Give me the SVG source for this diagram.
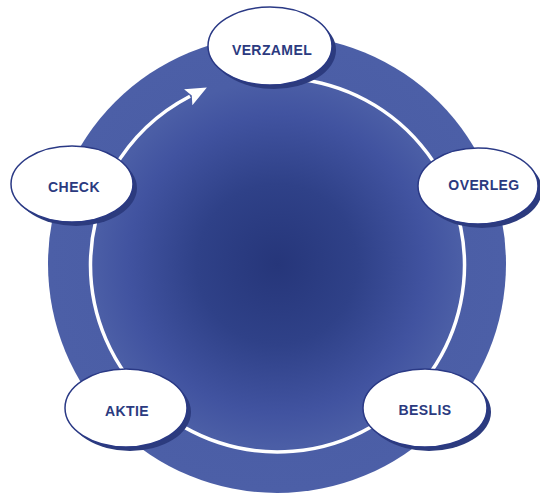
<svg xmlns="http://www.w3.org/2000/svg" width="540" height="495" viewBox="0 0 540 495">
  <style>
    .shadow { fill: #2c3b7e; }
    .node { fill: #ffffff; stroke: #2a3985; stroke-width: 1.5; }
    .label { font-family: "Liberation Sans", Arial, sans-serif; font-weight: bold; font-size: 14px; fill: #2b3a80; text-anchor: middle; letter-spacing: 0.4px; }
    .ring { fill: none; stroke: #ffffff; stroke-width: 3.5; }
  </style>
  <defs>
    <radialGradient id="disc" cx="277" cy="264" r="229" gradientUnits="userSpaceOnUse">
      <stop offset="0" stop-color="#26367a"/>
      <stop offset="0.35" stop-color="#2f4188"/>
      <stop offset="0.65" stop-color="#4153a0"/>
      <stop offset="0.8" stop-color="#4b5ea6"/>
      <stop offset="1" stop-color="#4c5fa7"/>
    </radialGradient>
    <marker id="head" markerUnits="userSpaceOnUse" markerWidth="24" markerHeight="20" refX="2" refY="10" orient="auto">
      <path d="M0,1 L21,10 L0,19 L4,10 Z" fill="#ffffff"/>
    </marker>
  </defs>
  <rect width="540" height="495" fill="#ffffff"/>
  <circle id="disc-bg" cx="277" cy="264" r="229" fill="url(#disc)"/>
  <g id="connectors">
    <path class="ring" d="M293.8,78.7 A187,187 0 1 1 108.0,186.0"/>
    <path class="ring" d="M113.0,170.0 A190,190 0 0 1 190.0,96.3" marker-end="url(#head)"/>
  </g>
  <g id="verzamel">
    <ellipse class="shadow" cx="274" cy="50" rx="62" ry="39"/>
    <ellipse class="node" cx="270" cy="46" rx="62" ry="39"/>
    <text class="label" x="272" y="55">VERZAMEL</text>
  </g>
  <g id="overleg">
    <ellipse class="shadow" cx="482" cy="190" rx="60" ry="38"/>
    <ellipse class="node" cx="478" cy="186" rx="60" ry="38"/>
    <text class="label" x="484" y="190">OVERLEG</text>
  </g>
  <g id="beslis">
    <ellipse class="shadow" cx="429" cy="412" rx="62" ry="39"/>
    <ellipse class="node" cx="425" cy="408" rx="62" ry="39"/>
    <text class="label" x="425" y="415">BESLIS</text>
  </g>
  <g id="aktie">
    <ellipse class="shadow" cx="130" cy="412" rx="61" ry="39"/>
    <ellipse class="node" cx="126" cy="408" rx="61" ry="39"/>
    <text class="label" x="127" y="416">AKTIE</text>
  </g>
  <g id="check">
    <ellipse class="shadow" cx="76" cy="188" rx="61" ry="38"/>
    <ellipse class="node" cx="72" cy="184" rx="61" ry="38"/>
    <text class="label" x="74" y="192">CHECK</text>
  </g>
</svg>
